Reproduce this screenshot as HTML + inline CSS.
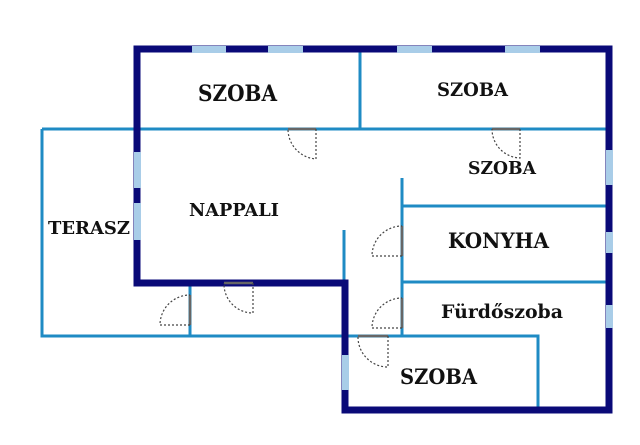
<!DOCTYPE html>
<html><head><meta charset="utf-8"><style>
html,body{margin:0;padding:0;background:#fff;}
svg{display:block;}
text{font-family:"DejaVu Serif","Liberation Serif",serif;font-weight:bold;fill:#111;}
</style></head><body>
<svg width="640" height="445" viewBox="0 0 640 445" xmlns="http://www.w3.org/2000/svg">
<rect width="640" height="445" fill="#fff"/>
<g stroke="#1f8bc4" stroke-width="3" fill="none">
<path d="M42 129 H609"/>
<path d="M360 49 V129"/>
<path d="M42 129 V336 H345"/>
<path d="M190 283 V336"/>
<path d="M402 178 V336"/>
<path d="M402 206 H609"/>
<path d="M402 282 H609"/>
<path d="M345 336 H538 V410"/>
<path d="M344 230 V283"/>
</g>
<g stroke="#0a0a78" stroke-width="7" fill="none" stroke-linecap="square">
<path d="M137 49 H609 V410 H345 V283 H137 Z"/>
</g>
<g fill="#a9cde8">
<rect x="192" y="46" width="34" height="7"/>
<rect x="268" y="46" width="35" height="7"/>
<rect x="397" y="46" width="35" height="7"/>
<rect x="505" y="46" width="35" height="7"/>
<rect x="134" y="152" width="7" height="36"/>
<rect x="134" y="203" width="7" height="37"/>
<rect x="606" y="150" width="7" height="35"/>
<rect x="606" y="232" width="7" height="21"/>
<rect x="606" y="305" width="7" height="23"/>
<rect x="342" y="355" width="7" height="35"/>
</g>
<g stroke="#666" stroke-width="2.5">
<path d="M288 129 H316"/><path d="M492 129 H520"/><path d="M224 283 H253"/>
<path d="M190 295 V325"/><path d="M402 226 V256"/><path d="M402 298 V328"/><path d="M358 336 H388"/>
</g>
<g stroke="#444" stroke-width="1.2" stroke-dasharray="2,2" fill="none">
<path d="M316 129 V159 A30 30 0 0 1 288 129"/>
<path d="M520 129 V158 A29 29 0 0 1 492 129"/>
<path d="M253 283 V313 A29 29 0 0 1 224 283"/>
<path d="M190 325 H160 A30 30 0 0 1 190 295"/>
<path d="M402 256 H372 A30 30 0 0 1 402 226"/>
<path d="M402 328 H372 A30 30 0 0 1 402 298"/>
<path d="M388 336 V367 A30 30 0 0 1 358 336"/>
</g>
<text x="198" y="101" font-size="22" textLength="79" lengthAdjust="spacingAndGlyphs">SZOBA</text>
<text x="437" y="96" font-size="19" textLength="71" lengthAdjust="spacingAndGlyphs">SZOBA</text>
<text x="468" y="174" font-size="18" textLength="68" lengthAdjust="spacingAndGlyphs">SZOBA</text>
<text x="189" y="216" font-size="18" textLength="90" lengthAdjust="spacingAndGlyphs">NAPPALI</text>
<text x="48" y="234" font-size="18" textLength="82" lengthAdjust="spacingAndGlyphs">TERASZ</text>
<text x="448" y="248" font-size="21" textLength="101" lengthAdjust="spacingAndGlyphs">KONYHA</text>
<text x="441" y="318" font-size="19" textLength="122" lengthAdjust="spacingAndGlyphs">Fürdőszoba</text>
<text x="400" y="384" font-size="21" textLength="77" lengthAdjust="spacingAndGlyphs">SZOBA</text>
</svg>
</body></html>
